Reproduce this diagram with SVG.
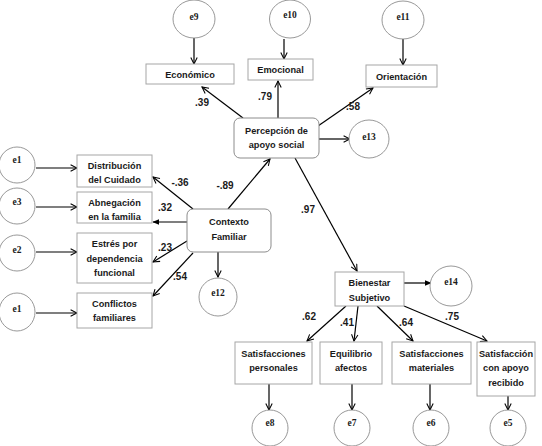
<svg xmlns="http://www.w3.org/2000/svg" width="542" height="446" viewBox="0 0 542 446">
<style>
  .bg{fill:#ffffff}
  .box{fill:#ffffff;stroke:#a6a6a6;stroke-width:1}
  .rbox{fill:#ffffff;stroke:#8c8c8c;stroke-width:1}
  .err{fill:#ffffff;stroke:#8c8c8c;stroke-width:0.9}
  .lbl{font-family:"Liberation Sans",Arial,sans-serif;font-weight:bold;font-size:9.2px;fill:#1a1a1a;text-anchor:middle}
  .elbl{font-family:"Liberation Serif","Times New Roman",serif;font-weight:bold;font-size:9.5px;fill:#1a1a1a;text-anchor:middle}
  .coef{font-family:"Liberation Sans",Arial,sans-serif;font-weight:bold;font-size:10px;fill:#1a1a1a;text-anchor:middle}
  .ln{stroke:#000000;stroke-width:1.2;fill:none;marker-end:url(#open)}
  .lnf{stroke:#000000;stroke-width:1.2;fill:none;marker-end:url(#filled)}
</style>
<defs>
  <marker id="open" viewBox="0 0 10 10" refX="9" refY="5" markerWidth="8" markerHeight="8" markerUnits="userSpaceOnUse" orient="auto">
    <path d="M1,1 L9,5 L1,9" fill="none" stroke="#000" stroke-width="1.3"/>
  </marker>
  <marker id="filled" viewBox="0 0 10 10" refX="9" refY="5" markerWidth="7" markerHeight="7" markerUnits="userSpaceOnUse" orient="auto">
    <path d="M0,1 L10,5 L0,9 z" fill="#000"/>
  </marker>
</defs>
<rect class="bg" x="0" y="0" width="542" height="446"/>

<g id="connectors">
  <line class="ln" x1="194" y1="38" x2="194" y2="64"/>
  <line class="ln" x1="284" y1="39" x2="284" y2="59"/>
  <line class="ln" x1="403" y1="39" x2="403" y2="65"/>
  <line class="ln" x1="243" y1="118" x2="202" y2="87"/>
  <line class="ln" x1="278" y1="118" x2="278" y2="81"/>
  <line class="ln" x1="318" y1="126" x2="373" y2="88"/>
  <line class="ln" x1="319" y1="139" x2="350" y2="139"/>
  <line class="ln" x1="295" y1="158" x2="357" y2="271"/>
  <line class="ln" x1="228" y1="209" x2="270" y2="159"/>
  <line class="ln" x1="193" y1="209" x2="153" y2="177"/>
  <line class="lnf" x1="187" y1="222" x2="153" y2="222"/>
  <line class="ln" x1="187" y1="241" x2="153" y2="262"/>
  <line class="ln" x1="193" y1="253" x2="153" y2="296"/>
  <line class="ln" x1="218" y1="252" x2="218" y2="277"/>
  <line class="ln" x1="36" y1="168" x2="77" y2="168"/>
  <line class="ln" x1="36" y1="207" x2="77" y2="207"/>
  <line class="ln" x1="36" y1="252" x2="77" y2="252"/>
  <line class="ln" x1="36" y1="313" x2="77" y2="313"/>
  <line class="lnf" x1="404" y1="283" x2="431" y2="283"/>
  <line class="ln" x1="346" y1="306" x2="307" y2="341"/>
  <line class="ln" x1="358" y1="306" x2="354" y2="341"/>
  <line class="ln" x1="377" y1="306" x2="413" y2="341"/>
  <line class="ln" x1="404" y1="306" x2="487" y2="341"/>
  <line class="ln" x1="269" y1="384" x2="269" y2="410"/>
  <line class="ln" x1="352" y1="384" x2="352" y2="410"/>
  <line class="ln" x1="430" y1="384" x2="430" y2="410"/>
  <line class="ln" x1="508" y1="396" x2="508" y2="410"/>
</g>

<g id="coefficients">
  <text class="coef" x="202" y="106">.39</text>
  <text class="coef" x="265" y="100">.79</text>
  <text class="coef" x="353" y="110">.58</text>
  <text class="coef" x="180" y="186">-.36</text>
  <text class="coef" x="225" y="189">-.89</text>
  <text class="coef" x="165" y="211">.32</text>
  <text class="coef" x="165" y="251">.23</text>
  <text class="coef" x="180" y="280">.54</text>
  <text class="coef" x="308" y="213">.97</text>
  <text class="coef" x="309" y="320">.62</text>
  <text class="coef" x="347" y="326">.41</text>
  <text class="coef" x="406" y="326">.64</text>
  <text class="coef" x="452" y="320">.75</text>
</g>

<g id="e9"><ellipse class="err" cx="194" cy="19" rx="21" ry="19"/><text class="elbl" x="194" y="20">e9</text></g>
<g id="e10"><ellipse class="err" cx="290" cy="19" rx="20.5" ry="19"/><text class="elbl" x="290" y="18">e10</text></g>
<g id="e11"><ellipse class="err" cx="403" cy="20" rx="21" ry="19"/><text class="elbl" x="403" y="20">e11</text></g>

<g id="economico"><rect class="box" x="146" y="64" width="88" height="20"/><text class="lbl" x="190" y="77.5">Económico</text></g>
<g id="emocional"><rect class="box" x="248" y="59" width="65" height="21"/><text class="lbl" x="280.5" y="72.5">Emocional</text></g>
<g id="orientacion"><rect class="box" x="366" y="65" width="71" height="22"/><text class="lbl" x="401.5" y="79.5">Orientación</text></g>

<g id="percepcion"><rect class="rbox" x="234" y="118" width="85" height="40" rx="6"/>
  <text class="lbl" x="276.5" y="133.5">Percepción de</text>
  <text class="lbl" x="276.5" y="147.5">apoyo social</text></g>
<g id="e13"><ellipse class="err" cx="369" cy="139" rx="20" ry="19"/><text class="elbl" x="369" y="140">e13</text></g>

<g id="contexto"><rect class="rbox" x="187" y="209" width="84" height="43" rx="6"/>
  <text class="lbl" x="229" y="224.5">Contexto</text>
  <text class="lbl" x="229" y="239.5">Familiar</text></g>
<g id="e12"><ellipse class="err" cx="218" cy="297" rx="19" ry="19"/><text class="elbl" x="218" y="296">e12</text></g>

<g id="distribucion"><rect class="box" x="77" y="155" width="75" height="32"/>
  <text class="lbl" x="114.5" y="168.5">Distribución</text>
  <text class="lbl" x="114.5" y="182.5">del Cuidado</text></g>
<g id="abnegacion"><rect class="box" x="77" y="192" width="75" height="31"/>
  <text class="lbl" x="114.5" y="205.5">Abnegación</text>
  <text class="lbl" x="114.5" y="219.5">en la familia</text></g>
<g id="estres"><rect class="box" x="77" y="233" width="75" height="50"/>
  <text class="lbl" x="114.5" y="246.5">Estrés por</text>
  <text class="lbl" x="114.5" y="261.5">dependencia</text>
  <text class="lbl" x="114.5" y="275.5">funcional</text></g>
<g id="conflictos"><rect class="box" x="77" y="293" width="75" height="35"/>
  <text class="lbl" x="114.5" y="306.5">Conflictos</text>
  <text class="lbl" x="114.5" y="320.5">familiares</text></g>

<g id="e1a"><ellipse class="err" cx="17" cy="165" rx="18" ry="18"/><text class="elbl" x="17" y="163">e1</text></g>
<g id="e3"><ellipse class="err" cx="17" cy="206" rx="18" ry="18"/><text class="elbl" x="17" y="205">e3</text></g>
<g id="e2"><ellipse class="err" cx="17" cy="253" rx="18" ry="18"/><text class="elbl" x="17" y="253">e2</text></g>
<g id="e1b"><ellipse class="err" cx="17" cy="312" rx="18" ry="19"/><text class="elbl" x="17" y="312">e1</text></g>

<g id="bienestar"><rect class="box" x="335" y="272" width="69" height="34"/>
  <text class="lbl" x="369.5" y="285.5">Bienestar</text>
  <text class="lbl" x="369.5" y="300.5">Subjetivo</text></g>
<g id="e14"><ellipse class="err" cx="451" cy="286" rx="21" ry="20"/><text class="elbl" x="451" y="285">e14</text></g>

<g id="satpersonales"><rect class="box" x="235" y="342" width="77" height="42"/>
  <text class="lbl" x="273.5" y="356.5">Satisfacciones</text>
  <text class="lbl" x="273.5" y="370.5">personales</text></g>
<g id="equilibrio"><rect class="box" x="320" y="342" width="62" height="42"/>
  <text class="lbl" x="351" y="356.5">Equilibrio</text>
  <text class="lbl" x="351" y="370.5">afectos</text></g>
<g id="satmateriales"><rect class="box" x="392" y="342" width="79" height="42"/>
  <text class="lbl" x="431.5" y="356.5">Satisfacciones</text>
  <text class="lbl" x="431.5" y="370.5">materiales</text></g>
<g id="satapoyo"><rect class="box" x="477" y="342" width="58" height="54"/>
  <text class="lbl" x="506" y="356.5">Satisfacción</text>
  <text class="lbl" x="506" y="370.5">con apoyo</text>
  <text class="lbl" x="506" y="385.5">recibido</text></g>

<g id="e8"><ellipse class="err" cx="270" cy="428" rx="18" ry="18"/><text class="elbl" x="270" y="426">e8</text></g>
<g id="e7"><ellipse class="err" cx="352" cy="428" rx="18" ry="18"/><text class="elbl" x="352" y="426">e7</text></g>
<g id="e6"><ellipse class="err" cx="431" cy="428" rx="18" ry="18"/><text class="elbl" x="431" y="426">e6</text></g>
<g id="e5"><ellipse class="err" cx="508" cy="428" rx="18" ry="18"/><text class="elbl" x="508" y="426">e5</text></g>
</svg>
